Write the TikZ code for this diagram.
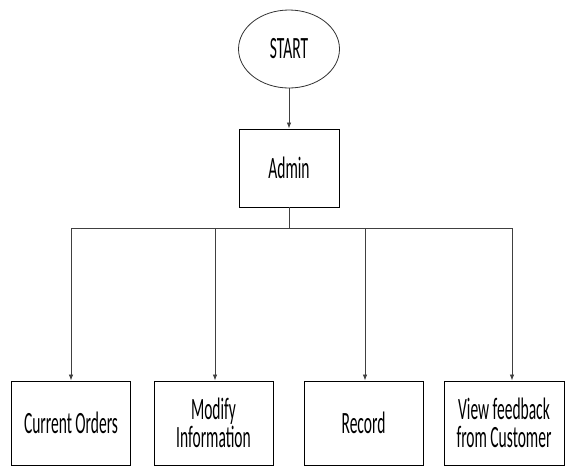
\documentclass[tikz,border=0pt]{standalone}
\usepackage{fontspec}
\setmainfont{Carlito}[FakeStretch=0.5]
\usetikzlibrary{arrows.meta,shapes.geometric}
\begin{document}
\begin{tikzpicture}[x=1pt,y=-1pt,
  box/.style={draw=black,line width=0.9pt,minimum width=119pt,minimum height=84pt,inner sep=0pt,font=\fontsize{31}{28}\selectfont,align=center},
  conn/.style={draw=black!75,line width=0.8pt},
  arr/.style={conn,-{Latex[length=6pt,width=4.5pt]}}]
\useasboundingbox (0,0) rectangle (569,467);
\node[draw=black!80,line width=0.8pt,ellipse,minimum width=101pt,minimum height=78pt,inner sep=0pt,font=\fontsize{31}{28}\selectfont] (start) at (289,49) {START};
\node[box,minimum width=100pt,minimum height=78pt] (admin) at (289,168) {Admin};
\node[box] (b1) at (71,423) {Current Orders};
\node[box] (b2) at (213.5,423) {Modify\\Information};
\node[box] (b3) at (363.5,423) {Record};
\node[box,minimum width=120pt] (b4) at (504,423) {View feedback\\from Customer};
\coordinate (j) at (289,228);
\coordinate (c1) at (71,228);
\coordinate (c2) at (215,228);
\coordinate (c3) at (365,228);
\coordinate (c4) at (512,228);
\draw[arr] (start) -- (admin);
\draw[conn] (admin) -- (j);
\draw[conn] (c1) -- (c4);
\draw[arr] (c1) -- (c1 |- b1.north);
\draw[arr] (c2) -- (c2 |- b2.north);
\draw[arr] (c3) -- (c3 |- b3.north);
\draw[arr] (c4) -- (c4 |- b4.north);
\end{tikzpicture}
\end{document}
